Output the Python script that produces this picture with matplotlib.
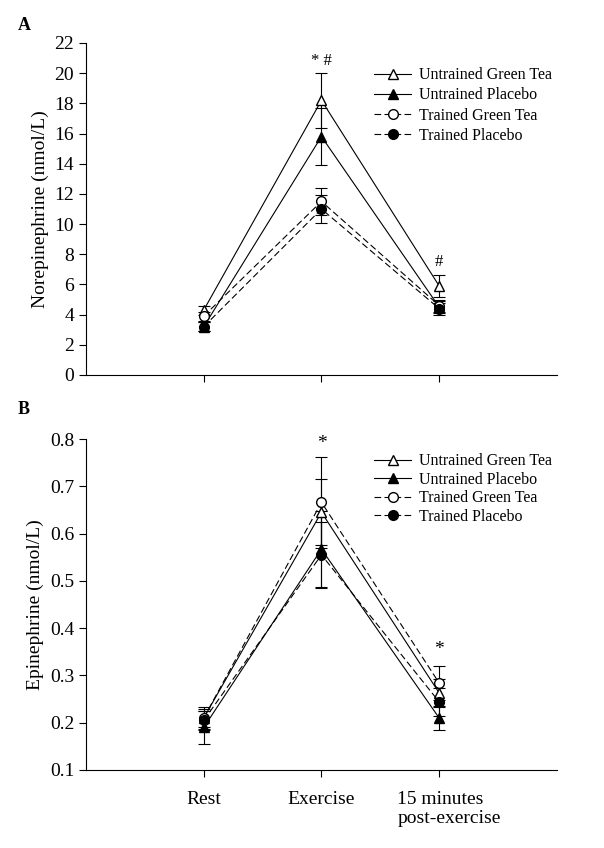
import matplotlib.pyplot as plt
import matplotlib.transforms as mtransforms
from matplotlib.lines import Line2D
import numpy as np

plt.rcParams['font.family'] = ['Liberation Serif', 'DejaVu Serif']

x = [1, 2, 3]
xlabels = ['Rest', 'Exercise', '15 minutes\npost-exercise']
names = ['Untrained Green Tea', 'Untrained Placebo', 'Trained Green Tea', 'Trained Placebo']

# panel A - norepinephrine
ne_ugt = [4.3, 18.2, 5.9]
ne_ugt_err = [0.3, 1.8, 0.7]
ne_up = [3.2, 15.8, 4.5]
ne_up_err = [0.3, 1.9, 0.4]
ne_tgt = [3.9, 11.5, 4.6]
ne_tgt_err = [0.3, 0.9, 0.4]
ne_tp = [3.2, 11.0, 4.4]
ne_tp_err = [0.3, 0.9, 0.4]

# panel B - epinephrine
ep_ugt = [0.21, 0.645, 0.263]
ep_ugt_err = [0.02, 0.07, 0.03]
ep_up = [0.19, 0.567, 0.21]
ep_up_err = [0.035, 0.08, 0.025]
ep_tgt = [0.21, 0.666, 0.284]
ep_tgt_err = [0.023, 0.096, 0.036]
ep_tp = [0.205, 0.555, 0.244]
ep_tp_err = [0.02, 0.07, 0.03]

styles = [
    dict(marker='^', mfc='white', ls='-'),
    dict(marker='^', mfc='black', ls='-'),
    dict(marker='o', mfc='white', ls=(0, (6, 3))),
    dict(marker='o', mfc='black', ls=(0, (6, 3))),
]


def draw(ax, series, errs, leg_y, spacing):
    handles = []
    for ys, es, st, nm in zip(series, errs, styles, names):
        ax.errorbar(x, ys, yerr=es, color='black', mec='black', lw=0.8,
                    ms=7, elinewidth=0.8, capsize=4, capthick=0.8, **st)
        handles.append(Line2D([], [], color='black', mec='black', lw=0.8,
                              ms=7, label=nm, **st))
    ax.spines['top'].set_visible(False)
    ax.spines['right'].set_visible(False)
    ax.set_xlim(0, 4)
    ax.set_xticks(x)
    ax.tick_params(labelsize=14, length=5, width=0.8)
    ax.legend(handles=handles, loc='upper right', bbox_to_anchor=(1.02, leg_y),
              frameon=False, fontsize=11.5, handlelength=2.3,
              handletextpad=0.5, labelspacing=spacing)


fig = plt.figure(figsize=(6.04, 8.48), dpi=100)
ax1 = fig.add_axes([0.1424, 0.5578, 0.7796, 0.3915])
ax2 = fig.add_axes([0.1424, 0.092, 0.7796, 0.3903])

draw(ax1, [ne_ugt, ne_up, ne_tgt, ne_tp], [ne_ugt_err, ne_up_err, ne_tgt_err, ne_tp_err], 0.97, 0.26)
ax1.set_ylim(0, 22)
ax1.set_yticks(np.arange(0, 23, 2))
ax1.set_xticklabels([])
ax1.set_ylabel('Norepinephrine (nmol/L)', fontsize=14)
ax1.text(2, 20.8, '* #', ha='center', va='center', fontsize=12)
ax1.text(3, 7.5, '#', ha='center', va='center', fontsize=12)

draw(ax2, [ep_ugt, ep_up, ep_tgt, ep_tp], [ep_ugt_err, ep_up_err, ep_tgt_err, ep_tp_err], 1.0, 0.15)
ax2.set_ylim(0.1, 0.8)
ax2.set_yticks(np.arange(0.1, 0.81, 0.1))
ax2.set_yticklabels(['%.1f' % v for v in np.arange(0.1, 0.81, 0.1)])
ax2.set_xticklabels(xlabels, multialignment='left')
ax2.tick_params(axis='x', pad=10)
lab = ax2.get_xticklabels()[2]
lab.set_transform(lab.get_transform() + mtransforms.ScaledTranslation(0.1, 0, fig.dpi_scale_trans))
ax2.set_ylabel('Epinephrine (nmol/L)', fontsize=14)
ax2.text(2, 0.79, '*', ha='center', va='center', fontsize=14)
ax2.text(3, 0.355, '*', ha='center', va='center', fontsize=14)

fig.text(0.03, 0.97, 'A', fontsize=13, fontweight='bold', va='center')
fig.text(0.03, 0.517, 'B', fontsize=13, fontweight='bold', va='center')

fig.savefig('out.png', dpi=100)
